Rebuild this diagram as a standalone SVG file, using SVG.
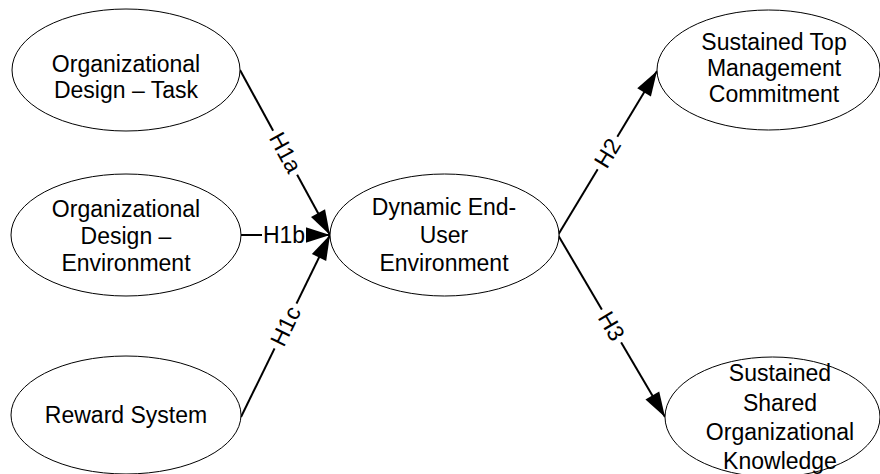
<svg xmlns="http://www.w3.org/2000/svg" width="880" height="474" viewBox="0 0 880 474">
<style>
.node ellipse{fill:#fff;stroke:#000;stroke-width:1}
text{font-family:"Liberation Sans",Arial,sans-serif;font-size:23px;fill:#000;text-anchor:middle}
.conn line{stroke:#000;stroke-width:2}
.lbl rect{fill:#fff}
</style>
<defs>
<marker id="arr" markerUnits="userSpaceOnUse" markerWidth="25" markerHeight="16" refX="25" refY="8" orient="auto" overflow="visible">
<path d="M0,0 L25,8 L0,16 Z" fill="#000"/>
</marker>
</defs>
<rect width="880" height="474" fill="#fff"/>
<g id="connectors" class="conn">
<line x1="240" y1="70" x2="330" y2="235" marker-end="url(#arr)"/>
<line x1="241" y1="235" x2="330" y2="235" marker-end="url(#arr)"/>
<line x1="241" y1="417" x2="330" y2="235" marker-end="url(#arr)"/>
<line x1="558" y1="235" x2="657" y2="71" marker-end="url(#arr)"/>
<line x1="558" y1="235" x2="665" y2="417" marker-end="url(#arr)"/>
<g class="lbl" transform="translate(285.5,152.5) rotate(61.4)"><rect x="-25" y="-11" width="50" height="22"/><text x="0" y="8">H1a</text></g>
<g class="lbl" transform="translate(284,235)"><rect x="-22" y="-11" width="44" height="22"/><text x="0" y="8">H1b</text></g>
<g class="lbl" transform="translate(285.5,326) rotate(-63.9)"><rect x="-25" y="-11" width="50" height="22"/><text x="0" y="8">H1c</text></g>
<g class="lbl" transform="translate(607.5,153) rotate(-58.9)"><rect x="-19" y="-11" width="38" height="22"/><text x="0" y="8">H2</text></g>
<g class="lbl" transform="translate(611.5,326) rotate(59.5)"><rect x="-19" y="-11" width="38" height="22"/><text x="0" y="8">H3</text></g>
</g>
<g id="n_task" class="node"><ellipse cx="126" cy="70" rx="114" ry="61"/><text x="126" y="72">Organizational</text><text x="126" y="98">Design – Task</text></g>
<g id="n_env" class="node"><ellipse cx="126" cy="235" rx="115" ry="61"/><text x="126" y="217">Organizational</text><text x="126" y="244">Design –</text><text x="126" y="271">Environment</text></g>
<g id="n_reward" class="node"><ellipse cx="126" cy="415" rx="115" ry="59"/><text x="126" y="423">Reward System</text></g>
<g id="n_center" class="node"><ellipse cx="444.5" cy="235" rx="114.5" ry="61"/><text x="444" y="215">Dynamic End-</text><text x="444" y="243">User</text><text x="444" y="271">Environment</text></g>
<g id="n_top" class="node"><ellipse cx="768.5" cy="70" rx="111.5" ry="60"/><text x="774" y="50">Sustained Top</text><text x="774" y="76">Management</text><text x="774" y="102">Commitment</text></g>
<g id="n_know" class="node"><ellipse cx="772.5" cy="417" rx="107.5" ry="60"/><text x="780" y="381">Sustained</text><text x="780" y="411">Shared</text><text x="780" y="440">Organizational</text><text x="780" y="469">Knowledge</text></g>
</svg>
